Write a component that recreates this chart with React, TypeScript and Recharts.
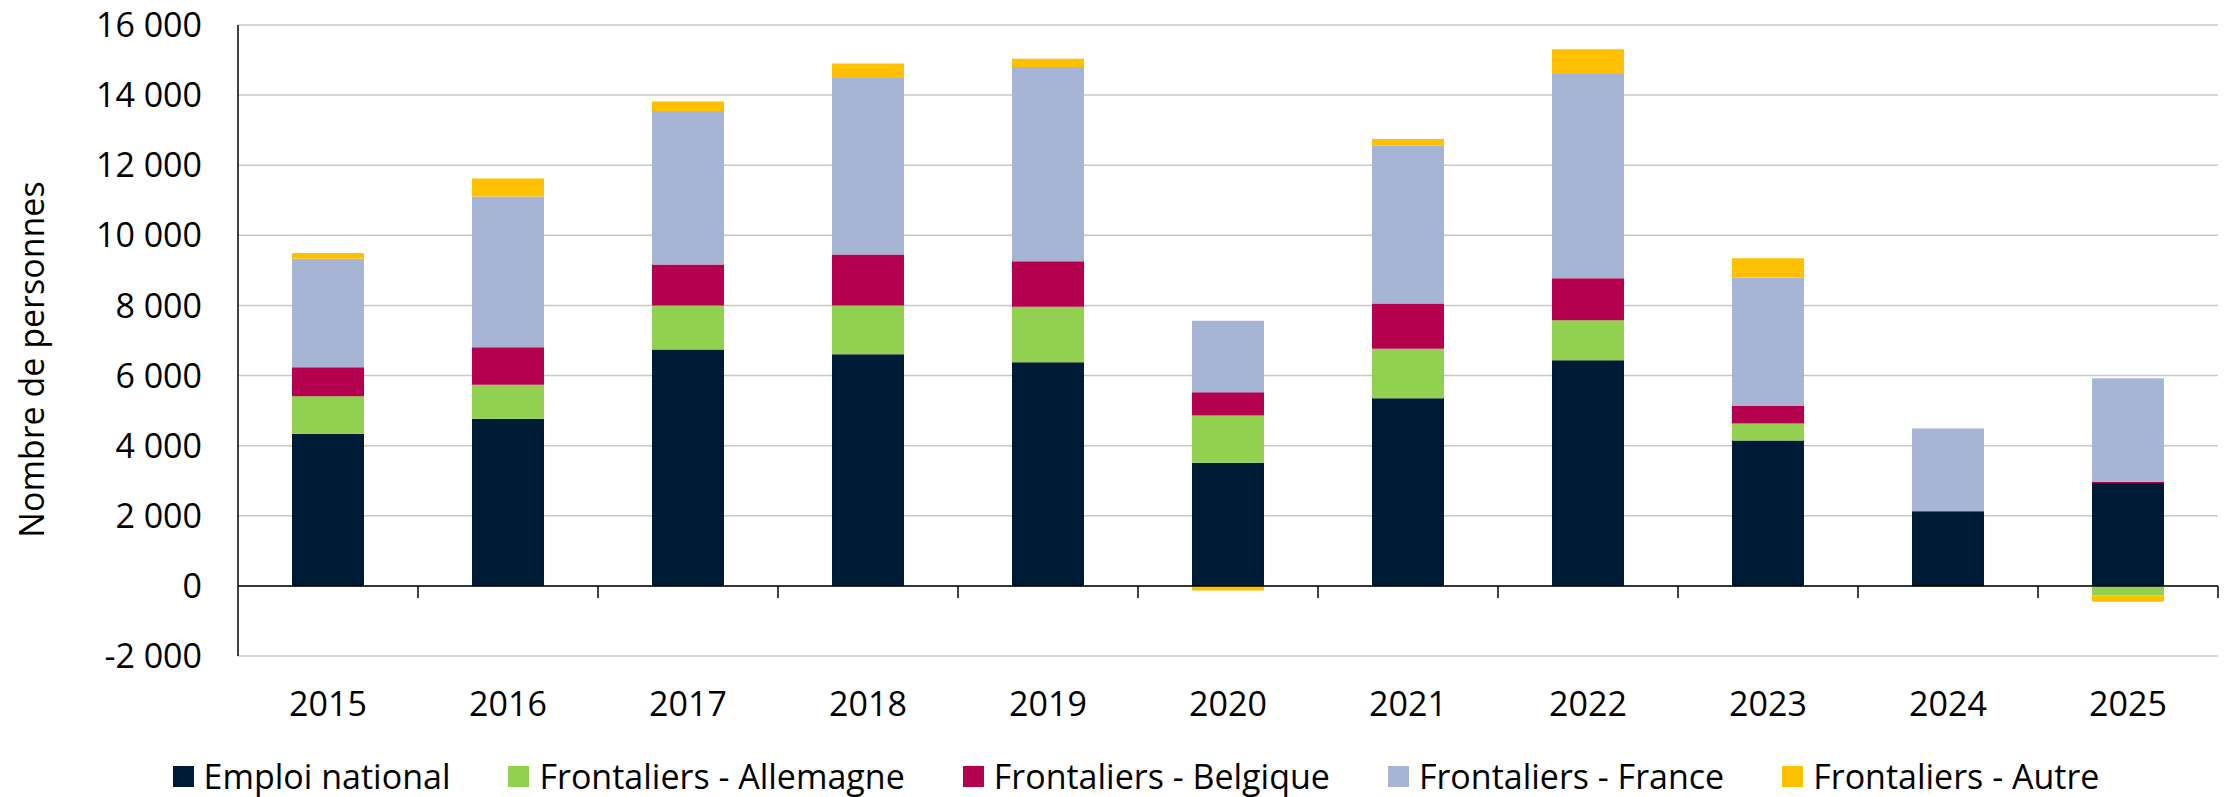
import React from 'react';
import {
    BarChart,
    Bar,
    XAxis,
    YAxis,
    CartesianGrid,
    ReferenceLine,
    Legend,
    Label,
} from 'recharts';

// Annual change in employment, split by residence of the worker
const years = ['2015', '2016', '2017', '2018', '2019', '2020', '2021', '2022', '2023', '2024', '2025'];
const emploiNational = [4340, 4770, 6740, 6610, 6380, 3510, 5350, 6440, 4150, 2115, 2935];
const frontaliersAllemagne = [1070, 970, 1260, 1390, 1580, 1350, 1415, 1135, 485, -10, -265];
const frontaliersBelgique = [830, 1070, 1170, 1455, 1300, 665, 1290, 1200, 500, 20, 25];
const frontaliersFrance = [3090, 4300, 4380, 5030, 5540, 2040, 4500, 5830, 3660, 2355, 2960];
const frontaliersAutre = [165, 510, 270, 420, 240, -130, 190, 700, 550, -15, -190];
const yTicks = [-2000, 0, 2000, 4000, 6000, 8000, 10000, 12000, 14000, 16000];

const series = [
    { key: 'emploi', name: 'Emploi national', color: '#001B35', values: emploiNational },
    { key: 'allemagne', name: 'Frontaliers - Allemagne', color: '#92D050', values: frontaliersAllemagne },
    { key: 'belgique', name: 'Frontaliers - Belgique', color: '#B50050', values: frontaliersBelgique },
    { key: 'france', name: 'Frontaliers - France', color: '#A6B5D6', values: frontaliersFrance },
    { key: 'autre', name: 'Frontaliers - Autre', color: '#FFC000', values: frontaliersAutre },
];

const chartData = years.map((year, i) => {
    const row: Record<string, string | number> = { year };
    series.forEach((s) => {
        row[s.key] = s.values[i];
    });
    return row;
});

const FONT = '"Open Sans", sans-serif';
const FONT_SIZE = 34;

// French style thousands separator: "16 000", "-2 000"
const formatThousands = (v: number) => {
    const abs = Math.abs(v);
    const txt = abs >= 1000 ? `${Math.floor(abs / 1000)} ${String(abs % 1000).padStart(3, '0')}` : String(abs);
    return v < 0 ? `-${txt}` : txt;
};

// Zero line with small category boundary ticks hanging below it
const ZeroLine = (props: any) => {
    const { x1, x2, y1 } = props;
    const step = (x2 - x1) / years.length;
    return (
        <g>
            <line x1={x1} x2={x2} y1={y1} y2={y1} stroke="#000" strokeWidth={1.5} />
            {years.map((_, i) => (
                <line
                    key={i}
                    x1={x1 + (i + 1) * step}
                    x2={x1 + (i + 1) * step}
                    y1={y1}
                    y2={y1 + 12}
                    stroke="#000"
                    strokeWidth={1.5}
                />
            ))}
        </g>
    );
};

// Legend keeps the series order (recharts would sort it by name)
const renderLegend = () => (
    <div
        style={{
            display: 'flex',
            justifyContent: 'center',
            alignItems: 'center',
            gap: 58,
            height: 36,
            lineHeight: '36px',
            paddingLeft: 54,
            fontFamily: FONT,
            fontSize: FONT_SIZE,
            color: '#000',
            whiteSpace: 'nowrap',
        }}
    >
        {series.map((s) => (
            <div key={s.key} style={{ display: 'flex', alignItems: 'center', height: 36 }}>
                <span
                    style={{
                        display: 'inline-block',
                        width: 21,
                        height: 21,
                        background: s.color,
                        marginRight: 10,
                    }}
                />
                <span>{s.name}</span>
            </div>
        ))}
    </div>
);

const App: React.FC = () => {
    return (
        <div style={{ position: 'absolute', left: 0, top: 0, background: '#fff' }}>
            <BarChart
                width={2229}
                height={797}
                data={chartData}
                stackOffset="sign"
                barCategoryGap="30%"
                margin={{ top: 25, right: 11, bottom: 0, left: 0 }}
            >
                <CartesianGrid vertical={false} stroke="#C9C9C9" strokeWidth={1.5} />
                <XAxis
                    dataKey="year"
                    axisLine={false}
                    tickLine={false}
                    tickSize={0}
                    tickMargin={36}
                    height={105}
                    interval={0}
                    tick={{ fontFamily: FONT, fontSize: FONT_SIZE, fill: '#000' }}
                />
                <YAxis
                    width={238}
                    domain={[-2000, 16000]}
                    ticks={yTicks}
                    interval={0}
                    tickFormatter={formatThousands}
                    axisLine={{ stroke: '#000', strokeWidth: 1.5 }}
                    tickLine={false}
                    tickSize={0}
                    tickMargin={36}
                    tick={{ fontFamily: FONT, fontSize: FONT_SIZE, fill: '#000' }}
                >
                    <Label
                        content={(p: any) => {
                            const vb = p.viewBox || {};
                            const cx = (vb.x || 0) + 31;
                            const cy = (vb.y || 0) + (vb.height || 0) / 2 + 19;
                            return (
                                <text
                                    x={cx}
                                    y={cy}
                                    transform={`rotate(-90, ${cx}, ${cy})`}
                                    textAnchor="middle"
                                    dominantBaseline="central"
                                    fontFamily={FONT}
                                    fontSize={FONT_SIZE}
                                    fill="#000"
                                >
                                    Nombre de personnes
                                </text>
                            );
                        }}
                    />
                </YAxis>
                <Legend verticalAlign="bottom" content={renderLegend} wrapperStyle={{ bottom: 3 }} />
                {series.map((s) => (
                    <Bar
                        key={s.key}
                        dataKey={s.key}
                        name={s.name}
                        stackId="total"
                        fill={s.color}
                        isAnimationActive={false}
                    />
                ))}
                <ReferenceLine y={0} shape={ZeroLine} />
            </BarChart>
        </div>
    );
};

export default App;
